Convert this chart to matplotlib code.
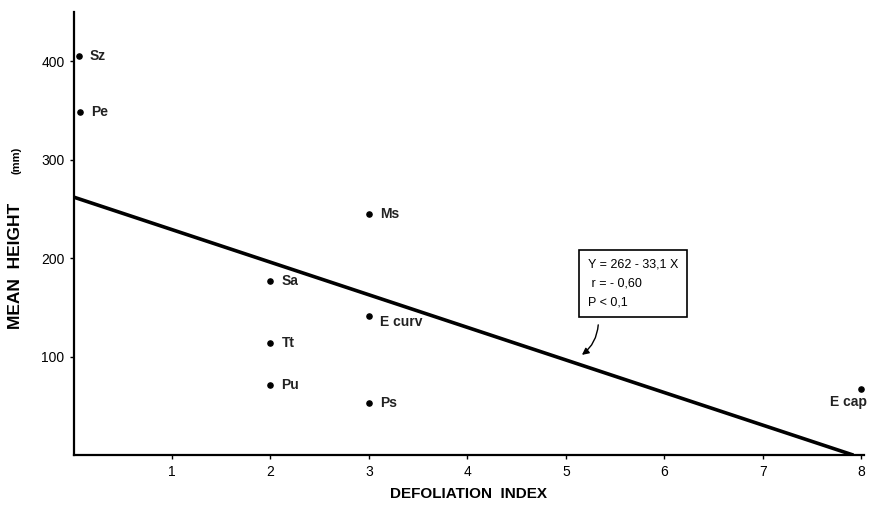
import matplotlib.pyplot as plt
from matplotlib.patches import FancyArrowPatch

# species points
species = ["Sz", "Pe", "Ms", "Sa", "E curv", "Tt", "Pu", "Ps", "E cap"]
defol = [0.06, 0.07, 3.0, 2.0, 3.0, 2.0, 2.0, 3.0, 8.0]
height = [405, 348, 245, 177, 141, 114, 71, 53, 67]

# regression line Y = 262 - 33.1 X
intercept = 262
slope = -33.1
x_line = [0, 7.92]

xticks = [1, 2, 3, 4, 5, 6, 7, 8]
yticks = [100, 200, 300, 400]

plt.rcParams['font.family'] = ['Liberation Sans', 'DejaVu Sans']

fig = plt.figure(figsize=(8.69, 5.11), dpi=100)
ax = fig.add_axes([0.0846, 0.1096, 0.910, 0.867])

y_line = [intercept + slope * x for x in x_line]
ax.plot(x_line, y_line, color='black', linewidth=2.6, solid_capstyle='butt')

ax.scatter(defol, height, s=14, color='black', zorder=3)

# point labels
offsets = {
    "Sz": (7, 0, 'left', 'center'),
    "Pe": (8, 0, 'left', 'center'),
    "Ms": (8, 0, 'left', 'center'),
    "Sa": (8, 0, 'left', 'center'),
    "E curv": (8, -4, 'left', 'center'),
    "Tt": (8, 0, 'left', 'center'),
    "Pu": (8, 0, 'left', 'center'),
    "Ps": (8, 0, 'left', 'center'),
    "E cap": (4, -4, 'right', 'top'),
}
for name, x, y in zip(species, defol, height):
    dx, dy, ha, va = offsets[name]
    ax.annotate(name, (x, y), xytext=(dx, dy), textcoords='offset points',
                ha=ha, va=va, fontsize=10, fontweight='bold', color='#222222')

ax.set_xlim(0, 8.03)
ax.set_ylim(0, 450)
ax.set_xticks(xticks)
ax.set_yticks(yticks)
ax.tick_params(axis='both', direction='out', length=3, width=1, labelsize=10,
               colors='black')
ax.tick_params(axis='x', pad=4)
ax.spines['top'].set_visible(False)
ax.spines['right'].set_visible(False)
ax.spines['left'].set_linewidth(1.6)
ax.spines['bottom'].set_linewidth(1.6)

ax.set_xlabel("DEFOLIATION  INDEX", fontsize=11, fontweight='bold',
              labelpad=6)

# y label: bold title plus small unit
fig.text(0.018, 0.48, "MEAN  HEIGHT", rotation=90, ha='center', va='center',
         fontsize=12.5, fontweight='bold')
fig.text(0.019, 0.687, "(mm)", rotation=90, ha='center', va='center',
         fontsize=8, fontweight='bold')

# equation box
ax.text(5.22, 174, "Y = 262 - 33,1 X\n r = - 0,60\nP < 0,1",
        fontsize=9, ha='left', va='center', linespacing=1.75,
        bbox=dict(boxstyle='square,pad=0.7', facecolor='white',
                  edgecolor='black', linewidth=1.2))

arrow = FancyArrowPatch((5.33, 135), (5.14, 100),
                        connectionstyle='arc3,rad=-0.25',
                        arrowstyle='-|>', mutation_scale=10,
                        color='black', linewidth=1.0)
ax.add_patch(arrow)

plt.savefig("out.png", dpi=100)
plt.close()
